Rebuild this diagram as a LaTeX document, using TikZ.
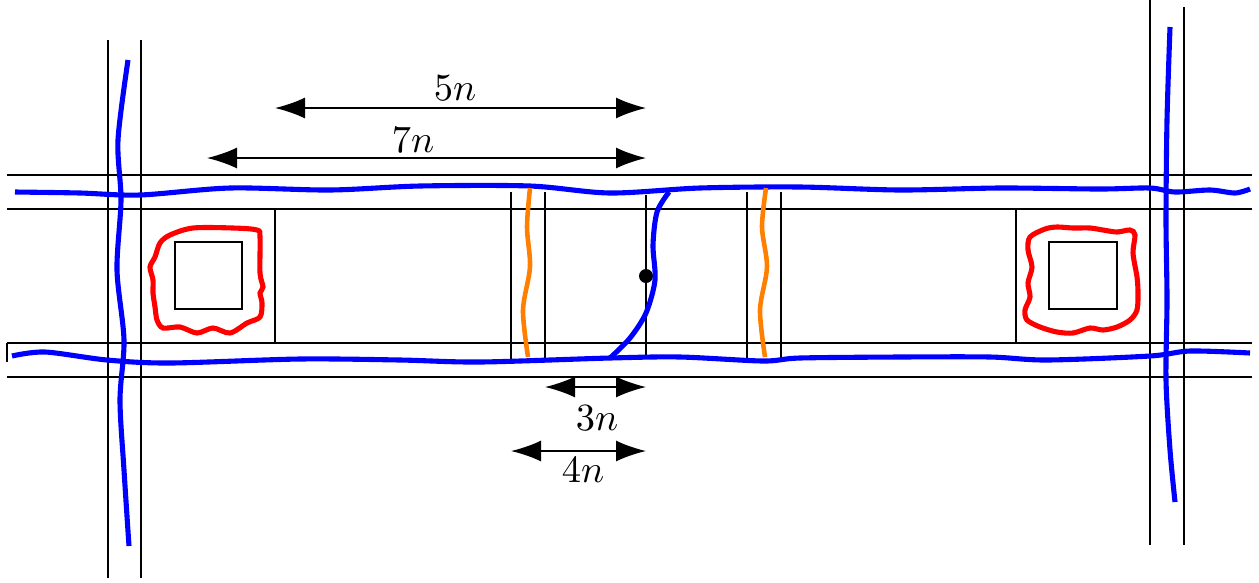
\documentclass[11pt,tikz,border=0pt]{standalone}
\usetikzlibrary{arrows.meta}

\tikzset{
  wall/.style={black, line width=0.5pt},
  wire/.style={blue, line width=1.45pt},
  loop/.style={red, line width=1.45pt},
  cut/.style={orange, line width=1.3pt},
  dim/.style={{Latex[length=3mm,width=2.1mm]}-{Latex[length=3mm,width=2.1mm]}, line width=0.5pt},
}

\begin{document}
\begin{tikzpicture}
\useasboundingbox (0,0) rectangle (12.59,5.82);

% corridor walls
\draw[wall] (0.07,4.07) -- (12.52,4.07);
\draw[wall] (0.07,3.73) -- (12.52,3.73);
\draw[wall] (0.07,2.39) -- (12.52,2.39);
\draw[wall] (0.07,2.05) -- (12.52,2.05);
\draw[wall] (0.07,2.39) -- (0.07,2.20);
\draw[wall] (1.08,5.42) -- (1.08,0.04);
\draw[wall] (1.41,5.42) -- (1.41,0.04);
\draw[wall] (11.50,5.82) -- (11.50,0.37);
\draw[wall] (11.84,5.75) -- (11.84,0.37);

% rooms
\draw[wall] (1.41,2.39) rectangle (2.75,3.73);
\draw[wall] (1.75,2.73) rectangle (2.42,3.40);
\draw[wall] (10.16,2.39) rectangle (11.50,3.73);
\draw[wall] (10.49,2.73) rectangle (11.17,3.40);
\foreach \x in {5.11,5.45,7.47,7.81}
  \draw[wall] (\x,3.90) -- (\x,2.22);
\draw[wall] (6.46,3.87) -- (6.46,2.23);
\fill (6.46,3.06) circle (0.07);

% cables
\draw[wire] plot[smooth] coordinates {(0.15,3.90) (0.80,3.89) (1.40,3.87) (2.30,3.94) (3.30,3.92) (4.20,3.96) (5.30,3.96) (6.10,3.89) (7.00,3.94) (8.00,3.95) (9.00,3.92) (10.00,3.94) (11.00,3.93) (11.50,3.94) (11.75,3.90) (12.10,3.92) (12.35,3.89) (12.50,3.93)};
\draw[wire] plot[smooth] coordinates {(0.12,2.26) (0.45,2.30) (1.07,2.22) (1.70,2.19) (3.00,2.23) (4.00,2.22) (4.80,2.20) (6.10,2.24) (6.80,2.25) (7.63,2.21) (8.00,2.24) (9.00,2.25) (9.90,2.25) (10.47,2.22) (11.50,2.26) (11.90,2.31) (12.50,2.29)};
\draw[wire] plot[smooth] coordinates {(1.28,5.22) (1.18,4.42) (1.21,3.82) (1.17,3.12) (1.24,2.42) (1.20,1.82) (1.24,1.12) (1.29,0.36)};
\draw[wire] plot[smooth] coordinates {(11.70,5.55) (11.67,4.62) (11.66,3.62) (11.67,2.82) (11.66,2.02) (11.70,1.32) (11.75,0.80)};
\draw[wire] plot[smooth] coordinates {(6.69,3.90) (6.57,3.70) (6.53,3.37) (6.55,3.02) (6.46,2.69) (6.30,2.44) (6.10,2.24)};
\draw[cut] plot[smooth] coordinates {(5.30,3.94) (5.27,3.55) (5.30,3.15) (5.23,2.72) (5.28,2.25)};
\draw[cut] plot[smooth] coordinates {(7.66,3.94) (7.62,3.55) (7.67,3.15) (7.60,2.72) (7.65,2.25)};
\draw[loop] plot[smooth cycle] coordinates {(1.70,3.47) (1.93,3.54) (2.33,3.54) (2.57,3.52) (2.60,3.45) (2.60,3.09) (2.63,2.95) (2.60,2.89) (2.62,2.79) (2.60,2.65) (2.47,2.59) (2.30,2.49) (2.13,2.54) (1.97,2.49) (1.80,2.55) (1.63,2.54) (1.57,2.62) (1.55,2.75) (1.53,2.89) (1.53,3.02) (1.50,3.15) (1.55,3.25) (1.60,3.39)};
\draw[loop] plot[smooth cycle] coordinates {(10.30,3.45) (10.45,3.53) (10.57,3.55) (10.73,3.54) (10.90,3.54) (11.03,3.52) (11.17,3.50) (11.30,3.52) (11.35,3.47) (11.33,3.29) (11.37,3.05) (11.38,2.89) (11.37,2.72) (11.30,2.62) (11.17,2.55) (11.03,2.52) (10.90,2.54) (10.73,2.49) (10.57,2.50) (10.40,2.55) (10.27,2.62) (10.25,2.72) (10.30,2.85) (10.28,2.99) (10.32,3.15) (10.28,3.32)};

% dimensions
\coordinate (f5) at (2.75,4.74);
\coordinate (t5) at (6.46,4.74);
\coordinate (f7) at (2.07,4.24);
\coordinate (t7) at (6.46,4.24);
\coordinate (f3) at (5.45,1.95);
\coordinate (t3) at (6.46,1.95);
\coordinate (f4) at (5.11,1.31);
\coordinate (t4) at (6.46,1.31);
\draw[dim] (f5) -- (t5);
\draw[dim] (f7) -- (t7);
\draw[dim] (f3) -- (t3);
\draw[dim] (f4) -- (t4);
\node (L5) at (4.55,4.94) {$5n$};
\node (L7) at (4.13,4.42) {$7n$};
\node (L3) at (5.97,1.64) {$3n$};
\node (L4) at (5.83,1.12) {$4n$};
\end{tikzpicture}
\end{document}
